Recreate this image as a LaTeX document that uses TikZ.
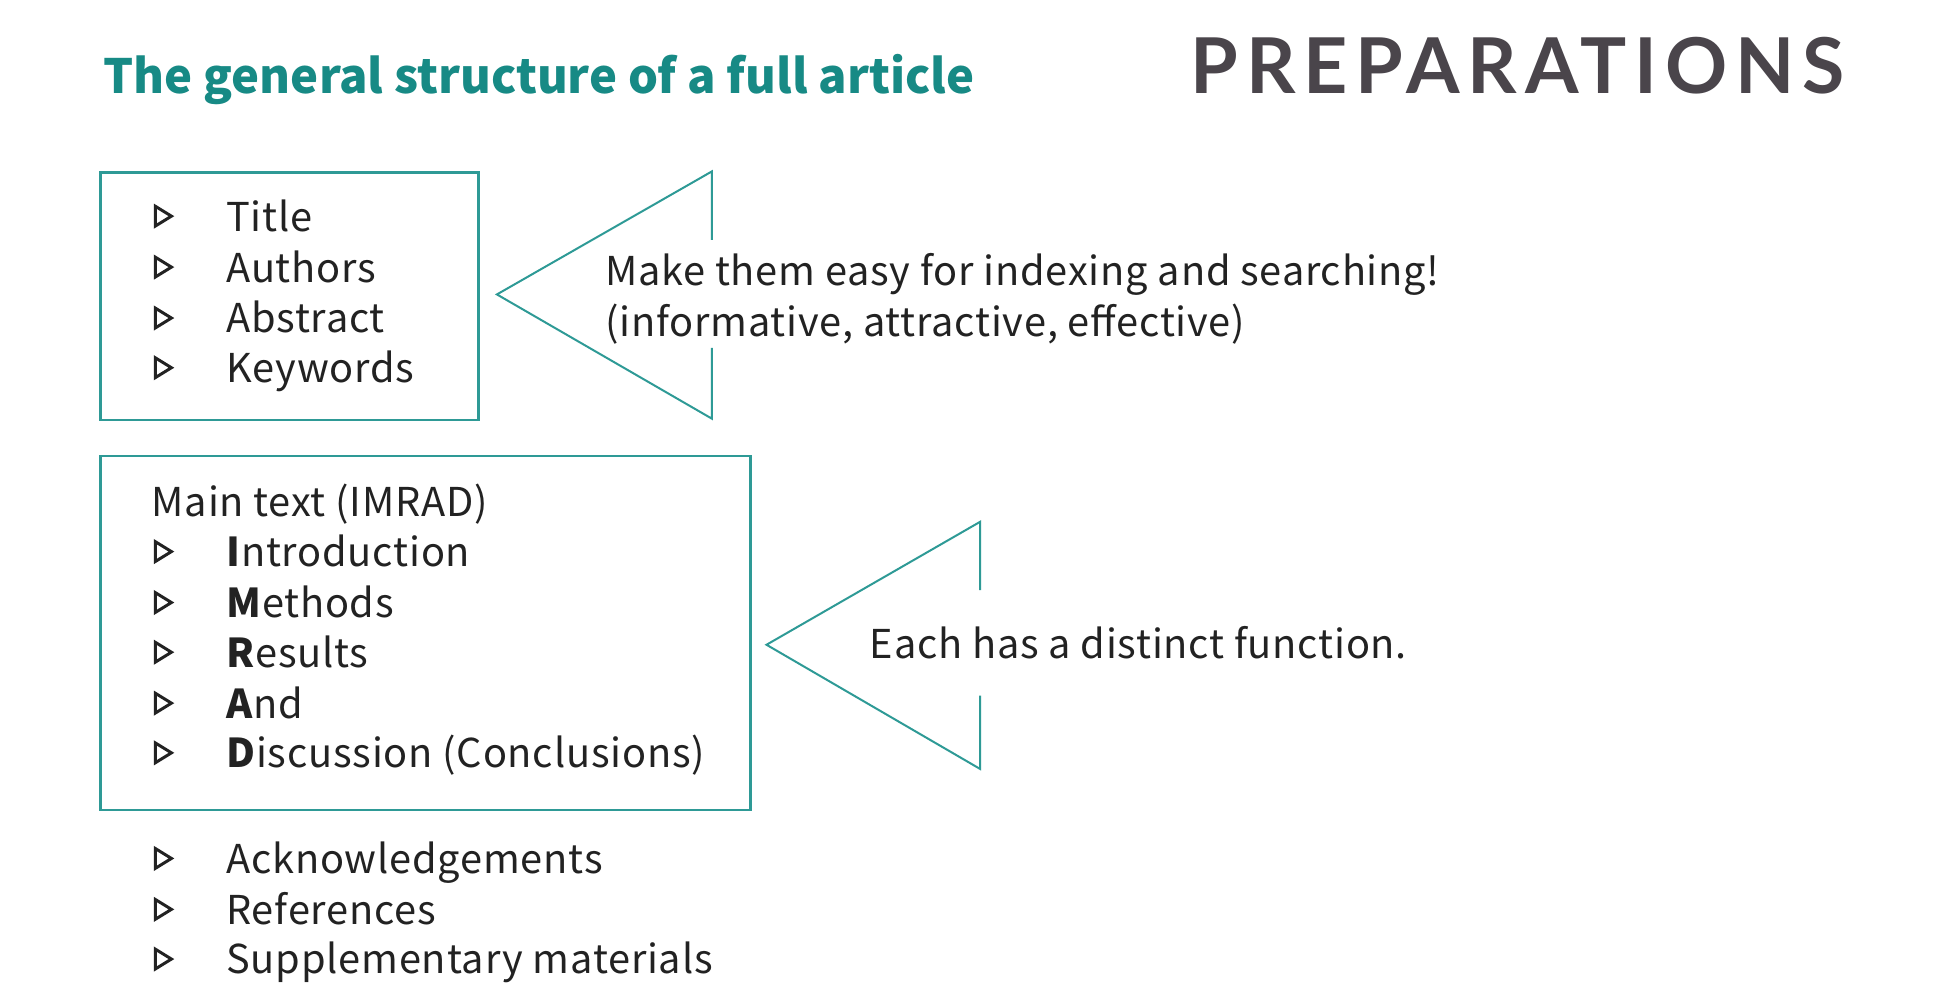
\documentclass[tikz,border=0pt]{standalone}
\usepackage{fontspec}
\setmainfont{Noto Sans CJK SC}
\newfontfamily\bodyfont[LetterSpace=2]{Noto Sans CJK SC}
\newfontfamily\prepfont[LetterSpace=10]{Lato}
\definecolor{tealtext}{HTML}{178A85}
\definecolor{tealline}{HTML}{2E9A96}
\definecolor{preptext}{HTML}{4A454B}
\definecolor{bodytext}{HTML}{222222}
\tikzset{
  body/.style={anchor=base west, inner sep=0pt, text=bodytext, font=\bodyfont\fontsize{32}{36}\selectfont},
  frame/.style={draw=tealline, line width=2pt},
  callout/.style={draw=tealline, line width=1.6pt, line join=miter},
  bul/.style={draw=bodytext, line width=2.4pt, line join=miter}
}
\newcommand{\bulat}[1]{\draw[bul] (125,#1-20) -- (138,#1-12) -- (125,#1-4) -- cycle;}
\begin{document}
\begin{tikzpicture}[x=1pt,y=-1pt]
\useasboundingbox[fill=white] (0,0) rectangle (1560,810);
% headings
\node[anchor=base west, inner sep=0pt, text=tealtext, font=\fontsize{38}{40}\selectfont\bfseries] (title) at (83,75) {The general structure of a full article};
\node[anchor=base east, inner sep=0pt, text=preptext, font=\prepfont\fontsize{62}{64}\selectfont\bfseries] (prep) at (1485,75) {PREPARATIONS};
% box 1
\node[frame, minimum width=304pt, minimum height=199pt, anchor=north west] (box1) at (80,138) {};
\foreach \y/\t [count=\i] in {186/Title,227/Authors,268/Abstract,308/Keywords}{
  \bulat{\y}
  \node[body] (b1i\i) at (182,\y) {\t};
}
% callout 1
\coordinate (c1tip) at (400,237);
\coordinate (c1top) at (573,138);
\coordinate (c1bot) at (573,337);
\draw[callout] (573,193) -- (c1top) -- (c1tip) -- (c1bot) -- (573,280);
\node[body] (c1a) at (487,230) {Make them easy for indexing and searching!};
\node[body] (c1b) at (487,271) {(informative, attractive, effective)};
% box 2
\node[frame, minimum width=523pt, minimum height=285pt, anchor=north west] (box2) at (80,366) {};
\node[body] (main) at (122,416) {Main text (IMRAD)};
\foreach \y/\t [count=\i] in {456/{\textbf{I}ntroduction},497/{\textbf{M}ethods},537/{\textbf{R}esults},578/{\textbf{A}nd},618/{\textbf{D}iscussion (Conclusions)}}{
  \bulat{\y}
  \node[body] (b2i\i) at (182,\y) {\t};
}
% callout 2
\coordinate (c2tip) at (617,519);
\coordinate (c2top) at (789,420);
\coordinate (c2bot) at (789,619);
\draw[callout] (789,475) -- (c2top) -- (c2tip) -- (c2bot) -- (789,560);
\node[body] (c2a) at (700,530) {Each has a distinct function.};
% bottom list
\foreach \y/\t [count=\i] in {703/Acknowledgements,744/References,784/Supplementary materials}{
  \bulat{\y}
  \node[body] (b3i\i) at (182,\y) {\t};
}
\end{tikzpicture}
\end{document}
